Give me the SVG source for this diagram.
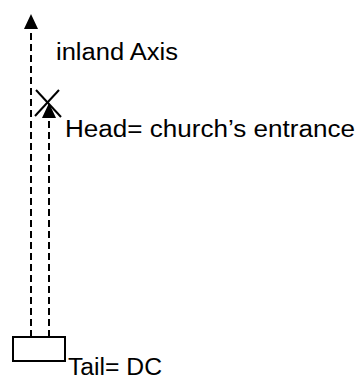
<svg xmlns="http://www.w3.org/2000/svg" width="361" height="381" viewBox="0 0 361 381">
<style>
.dash{stroke:#000;stroke-width:2;stroke-dasharray:7 4;fill:none}
.t{font-family:"Liberation Sans",Arial,sans-serif;font-size:23px;fill:#000}
</style>
<rect width="361" height="381" fill="#fff"/>
<g id="connectors">
<line class="dash" x1="31" y1="337" x2="31" y2="28"/>
<polygon points="31,14 24,29 38,29" fill="#000"/>
<line class="dash" x1="49" y1="337" x2="49" y2="116"/>
<polygon points="49,103 42,118 56,118" fill="#000"/>
</g>
<g id="head">
<line x1="36" y1="90" x2="61" y2="117" stroke="#000" stroke-width="2"/>
<line x1="59" y1="90" x2="35" y2="116" stroke="#000" stroke-width="2"/>
<text class="t" x="65" y="137" textLength="290" lengthAdjust="spacingAndGlyphs">Head= church’s entrance</text>
</g>
<g id="axis">
<text class="t" x="56" y="60" textLength="122" lengthAdjust="spacingAndGlyphs">inland Axis</text>
</g>
<g id="tail">
<rect x="13" y="337" width="52" height="24" fill="#fff" stroke="#000" stroke-width="2"/>
<text class="t" x="68" y="375" textLength="94" lengthAdjust="spacingAndGlyphs">Tail= DC</text>
</g>
</svg>
